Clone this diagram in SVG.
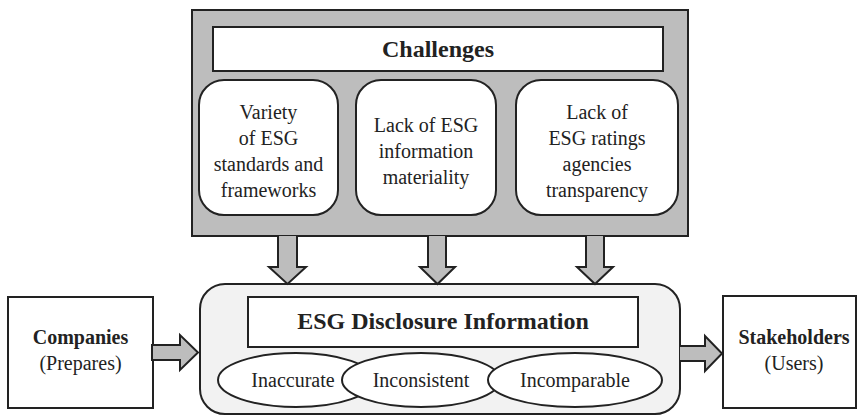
<svg xmlns="http://www.w3.org/2000/svg" width="858" height="416" viewBox="0 0 858 416">
  <style>
    text { font-family: 'Liberation Serif', 'DejaVu Serif', 'Times New Roman', serif; font-size: 20px; fill: #222; text-anchor: middle; }
    .b { font-weight: bold; }
    .h { font-weight: bold; font-size: 24px; }
    .box { fill: #fff; stroke: #222; stroke-width: 2; }
    .arrow { fill: #bdbdbd; stroke: #222; stroke-width: 2; stroke-linejoin: miter; }
  </style>
  <rect width="858" height="416" fill="#fff"/>

  <g font-family="Liberation Serif, serif">
  <!-- Challenges panel -->
  <g id="challenges">
    <rect x="192" y="10" width="496" height="226" fill="#bdbdbd" stroke="#222" stroke-width="2"/>
    <rect class="box" x="213" y="27" width="450" height="44"/>
    <text class="h" x="438" y="57">Challenges</text>
  </g>

  <g id="variety">
    <rect class="box" x="199" y="80" width="139" height="135" rx="25"/>
    <text x="268.5" y="119">Variety</text>
    <text x="268.5" y="145">of ESG</text>
    <text x="268.5" y="171">standards and</text>
    <text x="268.5" y="197">frameworks</text>
  </g>

  <g id="materiality">
    <rect class="box" x="356" y="80" width="140" height="135" rx="25"/>
    <text x="426" y="132">Lack of ESG</text>
    <text x="426" y="158">information</text>
    <text x="426" y="184">materiality</text>
  </g>

  <g id="transparency">
    <rect class="box" x="516" y="80" width="162" height="135" rx="25"/>
    <text x="597" y="119">Lack of</text>
    <text x="597" y="145">ESG ratings</text>
    <text x="597" y="171">agencies</text>
    <text x="597" y="197">transparency</text>
  </g>

  <!-- ESG disclosure panel -->
  <g id="disclosure">
    <rect x="200" y="284" width="480" height="130" rx="25" fill="#f2f2f2" stroke="#222" stroke-width="2"/>
    <rect class="box" x="248" y="297" width="390" height="50"/>
    <text class="h" x="443" y="329">ESG Disclosure Information</text>
  </g>

  <g id="inaccurate">
    <ellipse class="box" cx="296" cy="380" rx="78" ry="27"/>
    <text x="293" y="387">Inaccurate</text>
  </g>
  <g id="inconsistent">
    <ellipse class="box" cx="421" cy="380" rx="79" ry="27"/>
    <text x="421" y="387">Inconsistent</text>
  </g>
  <g id="incomparable">
    <ellipse class="box" cx="575" cy="380" rx="87" ry="27"/>
    <text x="575" y="387">Incomparable</text>
  </g>

  <!-- Actors -->
  <g id="companies">
    <rect class="box" x="8" y="297" width="145" height="111"/>
    <text class="b" x="80.5" y="344">Companies</text>
    <text x="80.5" y="370">(Prepares)</text>
  </g>
  <g id="stakeholders">
    <rect class="box" x="723" y="296" width="133" height="112"/>
    <text class="b" x="794" y="344">Stakeholders</text>
    <text x="794" y="370">(Users)</text>
  </g>

  <!-- Block arrows -->
  <g id="connectors">
    <path class="arrow" d="M278,236 V267 H269 L287.5,284 L306,267 H297 V236"/>
    <path class="arrow" d="M428,236 V267 H420 L437.5,284 L455,267 H446 V236"/>
    <path class="arrow" d="M586,236 V267 H577 L595,284 L613,267 H604 V236"/>
    <path class="arrow" d="M152,345 H180 V335 L198,352.5 L180,370 V360 H152 Z"/>
    <path class="arrow" d="M680,346 H705 V336 L722,353.5 L705,371 V361 H680"/>
  </g>
  </g>
</svg>
